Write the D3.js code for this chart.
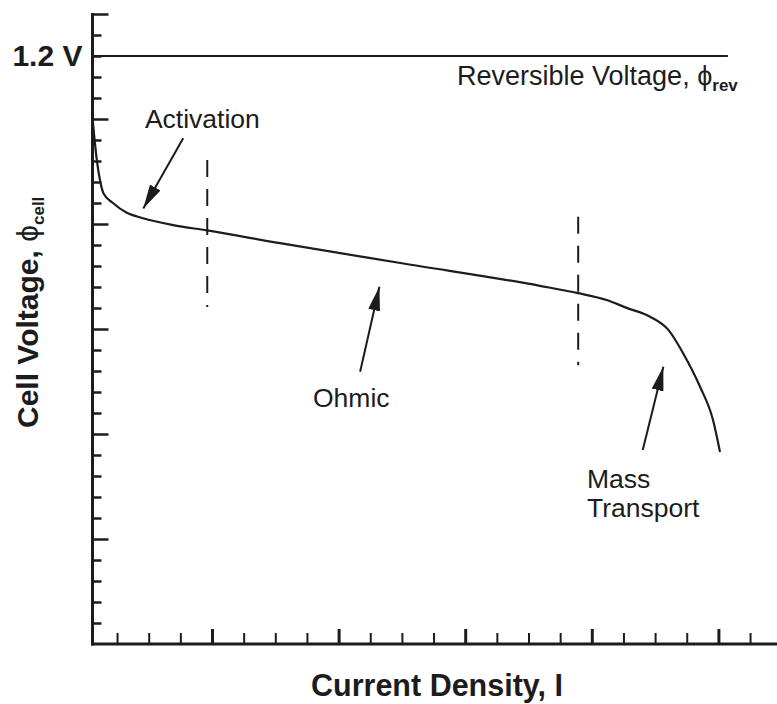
<!DOCTYPE html>
<html>
<head>
<meta charset="utf-8">
<script src="https://cdn.jsdelivr.net/npm/d3@7"></script>
<style>
  html, body { margin: 0; padding: 0; background: #fff; }
  svg { display: block; font-family: "Liberation Sans", Arial, Helvetica, sans-serif; }
</style>
</head>
<body>
<svg id="chart" width="777" height="704"></svg>
<script>
// Polarization curve of a fuel cell: cell voltage against current density.
const currentDensity = [0.24, 0.36, 0.46, 0.57, 0.87, 1.31, 1.82, 2.77, 3.84, 6.15, 10.0,
                        14.36, 15.57, 16.47, 17.10, 17.84, 18.42, 18.88, 19.42, 19.83, 20.05];
const cellVoltage    = [1.063, 0.988, 0.947, 0.920, 0.900, 0.880, 0.869, 0.855, 0.844, 0.818, 0.777,
                        0.731, 0.716, 0.702, 0.686, 0.668, 0.641, 0.594, 0.525, 0.457, 0.392];

// Reversible (open-circuit) voltage and where its line stops.
const reversibleVoltage = 1.2;
const reversibleEnd = 20.3;

// Boundaries between the activation, ohmic and mass-transport regions.
const regionBoundary = [3.85, 15.57];
const boundaryLow    = [0.688, 0.569];
const boundaryHigh   = [0.988, 0.872];

// Axis ticks: one step per minor tick; every 4th (x) / 5th (y) is major.
const voltStep = 1.2 / 28;
const xTickValues = d3.range(1, 22);
const yTickSteps = d3.range(1, 31);

// Region annotations: label text, label anchor, arrow tail and tip (data units).
const annotLabels = [["Activation"], ["Ohmic"], ["Mass", "Transport"]];
const annotLabelX = [1.88, 7.19, 15.85];
const annotLabelV = [1.053, 0.4837, 0.318];
const arrowTail = [[3.09, 1.032], [8.68, 0.5557], [17.61, 0.3959]];
const arrowTip  = [[1.83, 0.889], [9.29, 0.7292], [18.26, 0.5659]];

const svg = d3.select("#chart");
const W = 777, H = 704;
const axisX = 92.5, axisY = 644;

const x = d3.scaleLinear().domain([0, 22]).range([85.4, 85.4 + 22 * 31.65]);
const y = d3.scaleLinear().domain([0, 30 * voltStep]).range([axisY, axisY - 30 * 21]);

const ink = "#1c1c1c";

// Arrowhead marker
svg.append("defs").append("marker")
  .attr("id", "head")
  .attr("markerUnits", "userSpaceOnUse")
  .attr("viewBox", "0 0 24 12")
  .attr("refX", 24).attr("refY", 6)
  .attr("markerWidth", 24).attr("markerHeight", 12)
  .attr("orient", "auto")
  .append("path")
  .attr("d", "M0,0 L24,6 L0,12 Z")
  .attr("fill", ink);

// Bottom axis with ticks pointing up into the plot
const gx = svg.append("g").attr("transform", `translate(0,${axisY})`)
  .call(d3.axisTop(x).tickValues(xTickValues).tickFormat("").tickSizeOuter(0));
gx.select(".domain").remove();
gx.selectAll(".tick line")
  .attr("y2", d => d % 4 === 0 ? -15 : -11)
  .attr("stroke", ink)
  .attr("stroke-width", d => d % 4 === 0 ? 3 : 2);
svg.append("line")
  .attr("x1", axisX - 1.5).attr("x2", W)
  .attr("y1", axisY).attr("y2", axisY)
  .attr("stroke", ink).attr("stroke-width", 3);

// Left axis with ticks pointing right into the plot
const gy = svg.append("g").attr("transform", `translate(${axisX},0)`)
  .call(d3.axisRight(y).tickValues(yTickSteps.map(s => s * voltStep)).tickFormat("").tickSizeOuter(0));
gy.select(".domain").remove();
gy.selectAll(".tick line")
  .attr("x2", (d, i) => yTickSteps[i] % 5 === 0 ? 16 : 9)
  .attr("stroke", ink)
  .attr("stroke-width", 2.5);
svg.append("line")
  .attr("x1", axisX).attr("x2", axisX)
  .attr("y1", y(30 * voltStep) - 1).attr("y2", axisY + 1.5)
  .attr("stroke", ink).attr("stroke-width", 3);

// Reversible voltage line and its labels
svg.append("line")
  .attr("x1", axisX).attr("x2", x(reversibleEnd))
  .attr("y1", y(reversibleVoltage)).attr("y2", y(reversibleVoltage))
  .attr("stroke", ink).attr("stroke-width", 2);

svg.append("text")
  .attr("x", axisX - 10).attr("y", y(reversibleVoltage) + 10)
  .attr("text-anchor", "end")
  .attr("font-size", 30).attr("font-weight", "bold")
  .attr("fill", ink)
  .text("1.2 V");

const rev = svg.append("text")
  .attr("x", 457).attr("y", y(reversibleVoltage) + 29)
  .attr("font-size", 27).attr("fill", ink);
rev.append("tspan").text("Reversible Voltage, \u03D5");
rev.append("tspan").attr("font-size", 17).attr("font-weight", "bold").attr("dy", 6).text("rev");

// Region boundaries
svg.selectAll(".boundary").data(regionBoundary).join("line")
  .attr("class", "boundary")
  .attr("x1", d => x(d)).attr("x2", d => x(d))
  .attr("y1", (d, i) => y(boundaryHigh[i])).attr("y2", (d, i) => y(boundaryLow[i]))
  .attr("stroke", ink).attr("stroke-width", 2)
  .attr("stroke-dasharray", "17,12");

// Polarization curve
const pts = currentDensity.map((c, i) => [c, cellVoltage[i]]);
svg.append("path")
  .datum(pts)
  .attr("fill", "none")
  .attr("stroke", ink)
  .attr("stroke-width", 2.2)
  .attr("stroke-linejoin", "round")
  .attr("d", d3.line().x(d => x(d[0])).y(d => y(d[1])).curve(d3.curveMonotoneX));

// Annotation arrows
svg.selectAll(".arrow").data(arrowTail).join("line")
  .attr("class", "arrow")
  .attr("x1", d => x(d[0])).attr("y1", d => y(d[1]))
  .attr("x2", (d, i) => x(arrowTip[i][0])).attr("y2", (d, i) => y(arrowTip[i][1]))
  .attr("stroke", ink).attr("stroke-width", 2)
  .attr("marker-end", "url(#head)");

// Annotation labels
annotLabels.forEach((lines, i) => {
  lines.forEach((s, j) => {
    svg.append("text")
      .attr("x", x(annotLabelX[i])).attr("y", y(annotLabelV[i]) + j * 29)
      .attr("font-size", 26.5).attr("fill", ink)
      .text(s);
  });
});

// Axis titles
svg.append("text")
  .attr("x", 437).attr("y", 696)
  .attr("text-anchor", "middle")
  .attr("font-size", 30.5).attr("font-weight", "bold").attr("fill", ink)
  .text("Current Density, I");

const yt = svg.append("text")
  .attr("transform", "translate(38,428) rotate(-90)")
  .attr("font-size", 30).attr("font-weight", "bold").attr("fill", ink);
yt.append("tspan").text("Cell Voltage, ");
yt.append("tspan").attr("font-weight", "normal").text("\u03D5");
yt.append("tspan").attr("font-size", 17).attr("dy", 6).text("cell");
</script>
</body>
</html>
